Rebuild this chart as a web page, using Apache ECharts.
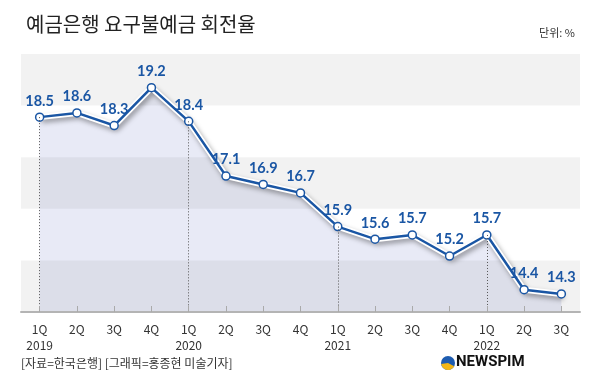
<!DOCTYPE html>
<html><head><meta charset="utf-8">
<script src="https://cdn.jsdelivr.net/npm/echarts@6/dist/echarts.min.js"></script>
<style>html,body{margin:0;padding:0;background:#fff}#c{width:600px;height:390px}</style>
</head><body><div id="c"></div>
<script>
const quarters = ['1Q','2Q','3Q','4Q','1Q','2Q','3Q','4Q','1Q','2Q','3Q','4Q','1Q','2Q','3Q'];
const years = ['2019','','','','2020','','','','2021','','','','2022','',''];
const values = [18.5,18.6,18.3,19.2,18.4,17.1,16.9,16.7,15.9,15.6,15.7,15.2,15.7,14.4,14.3];
const title = '예금은행 요구불예금 회전율';
const unit = '단위: %';
const source = '[자료=한국은행] [그래픽=홍종현 미술기자]';

const yMin = 13.87, yMax = 20.0;
const cats = quarters.map((q,i)=> years[i] ? q + '\n' + years[i] : q);
const yearIdx = years.map((y,i)=> y ? i : -1).filter(i=>i>=0);

const chart = echarts.init(document.getElementById('c'), null, {renderer:'canvas'});
chart.setOption({
  animation:false,
  backgroundColor:'#fff',
  title:[
    {text:title,left:21,top:9,textStyle:{fontFamily:'Noto Sans CJK KR',fontSize:20,fontWeight:'normal',color:'#222'}},
    {text:unit,right:20,top:22,textStyle:{fontFamily:'Noto Sans CJK KR',fontSize:11,fontWeight:'normal',color:'#333'}}
  ],
  grid:{left:21,right:20,top:54,bottom:78},
  xAxis:{type:'category',data:cats,boundaryGap:true,z:5,
    axisLine:{show:true,lineStyle:{color:'#b4b4b4',width:2}},
    axisTick:{show:true,inside:true,length:6,alignWithLabel:true,lineStyle:{color:'#aaa'}},
    axisLabel:{margin:9,fontFamily:'Noto Sans CJK KR',fontSize:12,color:'#333',lineHeight:16,verticalAlign:'top'}
  },
  yAxis:[
    {type:'value',min:yMin,max:yMax,show:false,splitLine:{show:false}},
    {type:'value',min:0,max:5,interval:1,z:2,axisLine:{show:false},axisTick:{show:false},axisLabel:{show:false},
      splitLine:{show:false},splitArea:{show:true,areaStyle:{color:['rgba(0,0,0,0.05)','rgba(0,0,0,0)']}}}
  ],
  series:[
    {type:'line',data:values,yAxisIndex:0,symbol:'none',z:1,silent:true,
      lineStyle:{width:0,opacity:0},
      areaStyle:{color:'#e8eaf6',opacity:1,origin:'start'}
    },
    {type:'line',data:values,yAxisIndex:0,symbol:'none',z:3,silent:true,
      lineStyle:{color:'#ffffff',width:6,shadowColor:'rgba(0,0,0,0.35)',shadowBlur:5,shadowOffsetX:2,shadowOffsetY:3},
      markLine:{silent:true,symbol:['none','none'],label:{show:false},
        lineStyle:{color:'#555',type:[1,2],width:1},
        data: yearIdx.map(i=>[{coord:[i,values[i]]},{coord:[i,yMin]}])}
    },
    {type:'line',data:values,yAxisIndex:0,z:4,symbol:'circle',symbolSize:8,
      lineStyle:{color:'#1a56a4',width:2.5},
      itemStyle:{color:'#ffffff',borderColor:'#1a56a4',borderWidth:1.5},
      label:{show:true,position:'top',distance:4,fontFamily:'Lato',fontWeight:'bold',fontSize:14.5,color:'#1a56a4'}
    }
  ],
  graphic:[
    {type:'text',left:21,top:357,style:{text:source,fontFamily:'Noto Sans CJK KR',fontSize:12,fill:'#333'}},
    {type:'circle',shape:{cx:448,cy:363,r:7},style:{fill:'#1d5cb0'}},
    {type:'sector',shape:{cx:448,cy:363,r:7,r0:0,startAngle:Math.PI*0.15,endAngle:Math.PI*0.95},style:{fill:'#f2b616'}},
    {type:'text',left:456,top:355,style:{text:'NEWSPIM',fontFamily:'Roboto',fontWeight:'bold',fontSize:15,fill:'#111'}}
  ]
});
</script></body></html>
